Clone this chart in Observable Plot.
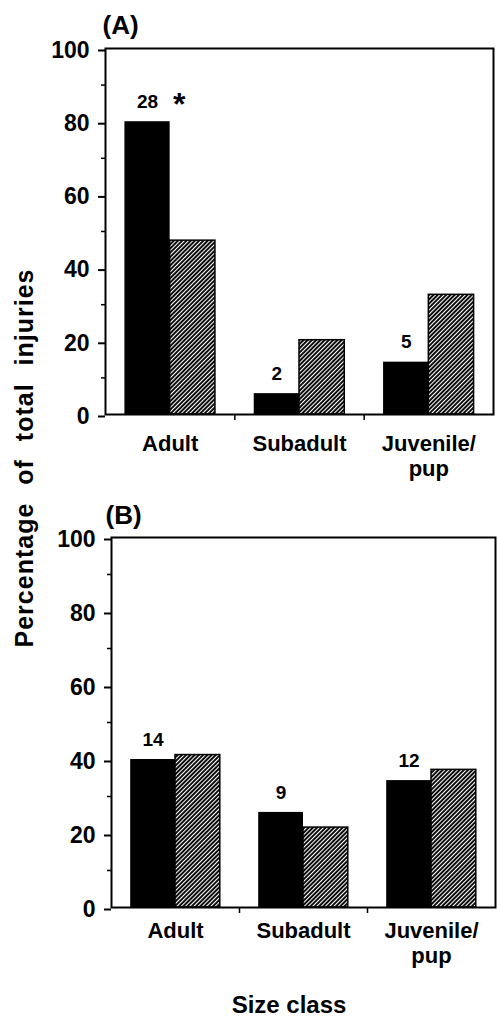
<!DOCTYPE html>
<html>
<head>
<meta charset="utf-8">
<script src="https://cdn.jsdelivr.net/npm/d3@7"></script>
<script src="https://cdn.jsdelivr.net/npm/@observablehq/plot@0.6"></script>
<style>
  html, body { margin: 0; padding: 0; background: white; }
  #wrap { position: relative; width: 497px; height: 1017px; background: white; overflow: hidden;
          font-family: "Liberation Sans", Arial, Helvetica, sans-serif; color: black; }
  #wrap svg { position: absolute; left: 0; z-index: 1; }
  .ylab { position: absolute; z-index: 2; left: 24px; top: 458px; transform: translate(-50%, -50%) rotate(-90deg);
          white-space: nowrap; font-size: 25px; font-weight: bold; line-height: 1;
          letter-spacing: 1px; word-spacing: 10px; }
  .xlab { position: absolute; z-index: 2; left: 289px; top: 993px; transform: translateX(-50%);
          white-space: nowrap; font-size: 24px; font-weight: bold; line-height: 1; }
</style>
</head>
<body>
<div id="wrap">
  <div class="ylab">Percentage of total injuries</div>
  <div class="xlab">Size class</div>
</div>
<script>
// ---- data ----
const sizeClasses = ["Adult", "Subadult", "Juvenile/\npup"];
const panelLabels = ["(A)", "(B)"];
const blackA = [80, 5.7, 14.3];
const hatchA = [47.5, 20.3, 32.7];
const countA = [28, 2, 5];
const sigA = ["*", "", ""];
const blackB = [40, 25.7, 34.3];
const hatchB = [41.2, 21.6, 37.2];
const countB = [14, 9, 12];
const sigB = ["", "", ""];
const yMajorTicks = [0, 20, 40, 60, 80, 100];
const yMinorTicks = [10, 30, 50, 70, 90];

const W = 0.35; // bar width in band units
const FONT = "Liberation Sans, Arial, Helvetica, sans-serif";

function makePanel(cfg) {
  const rows = sizeClasses.map((c, i) => ({
    i, c, black: cfg.black[i], hatch: cfg.hatch[i], n: cfg.counts[i], sig: cfg.sig[i]
  }));
  const boundaries = d3.range(1, sizeClasses.length).map(i => i - 0.5);
  const pid = "hatch" + cfg.id;
  const svg = Plot.plot({
    width: 497,
    height: cfg.height,
    marginTop: cfg.marginTop,
    marginBottom: cfg.marginBottom,
    marginLeft: cfg.marginLeft,
    marginRight: cfg.marginRight,
    style: { fontFamily: FONT, color: "black", background: "transparent", overflow: "visible" },
    x: { domain: [-0.5, sizeClasses.length - 0.5] },
    y: { domain: [0, 100] },
    marks: [
      Plot.rect(rows, { x1: d => d.i - W, x2: d => d.i, y1: 0, y2: "black", fill: "black" }),
      Plot.rect(rows, { x1: d => d.i, x2: d => d.i + W, y1: 0, y2: "hatch",
                        fill: `url(#${pid})`, stroke: "black", strokeWidth: 1.5 }),
      Plot.frame({ stroke: "black", strokeWidth: 2 }),
      Plot.axisY({ ticks: yMajorTicks, tickSize: 7, tickPadding: 9, strokeWidth: 2,
                   fontSize: 23, fontWeight: "bold", dy: 2, label: null }),
      Plot.axisY({ ticks: yMinorTicks, tickSize: 4, tickFormat: () => "", strokeWidth: 1.5, label: null }),
      Plot.axisX({ ticks: sizeClasses.map((c, i) => i), tickFormat: i => sizeClasses[i],
                   tickSize: 0, tickPadding: cfg.xPad, fontSize: 22, fontWeight: "bold",
                   lineHeight: 1.13, label: null }),
      Plot.axisX({ ticks: boundaries, tickSize: 6, tickFormat: () => "", strokeWidth: 1.5, label: null }),
      Plot.text(rows, { x: d => d.i - W / 2, y: "black", text: d => String(d.n), dy: -20,
                        fontSize: 19, fontWeight: "bold" }),
      Plot.text(rows.filter(d => d.sig), { x: d => d.i + 0.07, y: "black", text: "sig", dy: -17,
                        fontSize: 32, fontWeight: "bold" }),
      Plot.text([cfg.label], { frameAnchor: "top-left", text: d => d, textAnchor: "start",
                        lineAnchor: "middle", dx: cfg.labelDx, dy: cfg.labelDy,
                        fontSize: 26, fontWeight: "bold" })
    ]
  });
  const defs = d3.select(svg).insert("defs", ":first-child");
  const pat = defs.append("pattern")
    .attr("id", pid).attr("patternUnits", "userSpaceOnUse")
    .attr("width", 3).attr("height", 3).attr("patternTransform", "rotate(45)");
  pat.append("rect").attr("width", 3).attr("height", 3).attr("fill", "black");
  pat.append("rect").attr("x", 0).attr("width", 1.1).attr("height", 3).attr("fill", "white");
  svg.style.top = cfg.top + "px";
  return svg;
}

const wrap = document.getElementById("wrap");
wrap.appendChild(makePanel({
  id: "A", label: panelLabels[0], black: blackA, hatch: hatchA, counts: countA, sig: sigA,
  top: 0, height: 470, marginTop: 48, marginBottom: 56, marginLeft: 105, marginRight: 4,
  xPad: 19, labelDx: -3, labelDy: -23
}));
wrap.appendChild(makePanel({
  id: "B", label: panelLabels[1], black: blackB, hatch: hatchB, counts: countB, sig: sigB,
  top: 480, height: 480, marginTop: 57, marginBottom: 53, marginLeft: 111, marginRight: 2,
  xPad: 13, labelDx: -6, labelDy: -22
}));
</script>
</body>
</html>
